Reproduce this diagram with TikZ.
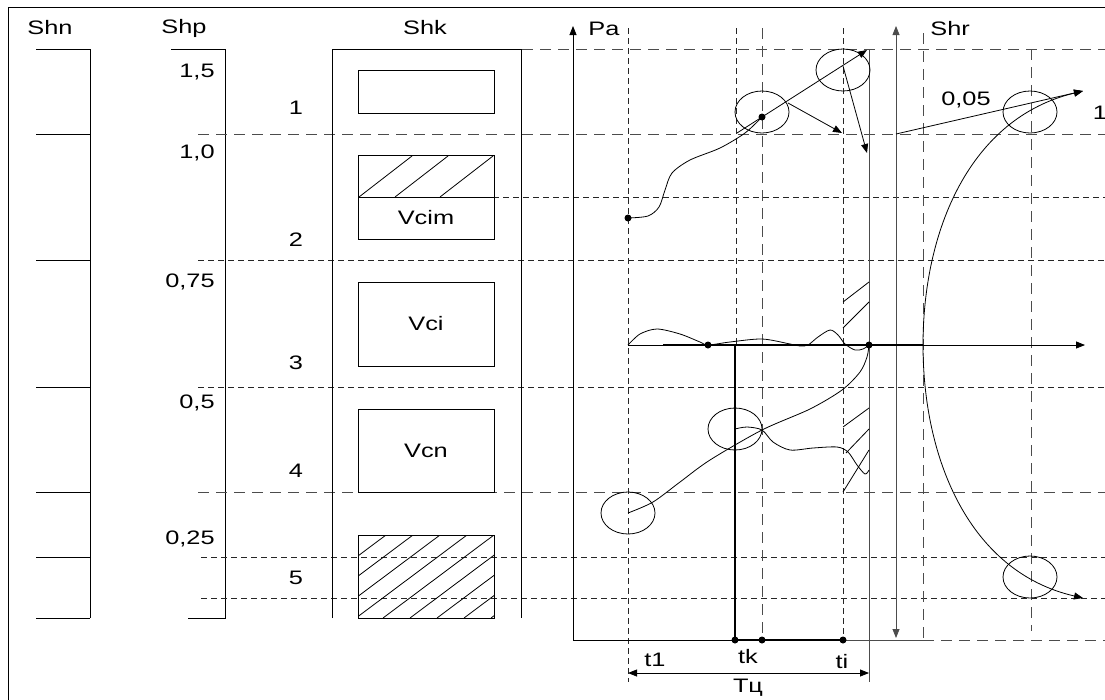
\documentclass[tikz,border=0pt]{standalone}
\usepackage{fontspec}
\setmainfont{Liberation Sans}[FakeStretch=1.3]
\usetikzlibrary{arrows.meta,shapes.geometric}

\tikzset{
	lbl/.style={font=\fontsize{19.5}{22}\selectfont, inner sep=0pt},
	longdash/.style={draw=black!70, line width=0.9pt, dash pattern=on 11pt off 7pt},
	shortdash/.style={draw=black!85, line width=0.8pt, dash pattern=on 6pt off 4pt},
	cell/.style={draw, line width=0.9pt, minimum width=136pt, inner sep=0pt},
	ring/.style={draw, ellipse, minimum width=54pt, minimum height=42pt, inner sep=0pt},
	dot/.style={circle, fill, minimum size=7pt, inner sep=0pt},
	arr/.style={-{Triangle[length=9pt,width=7pt]}},
}

\begin{document}
\begin{tikzpicture}[x=1pt, y=-1pt, line width=0.8pt]
\useasboundingbox (0,0) rectangle (1105,699);

\draw (8,710) -- (8,7) -- (1110,7);

% Escala Shn
\node[lbl] (shn) at (50,28) {Shn};
\draw (90,49) -- (90,618);
	\foreach \y in {49,134,260,387,492,557,618}
		\draw (36,\y) -- (90,\y);

% Escala Shp
\node[lbl] (shp) at (184,28) {Shp};
\draw (171,49) -- (225,49) -- (225,618) -- (188,618);
	\foreach \v/\y [count=\i] in {{1,5}/72, {1,0}/153, {0,75}/282, {0,5}/403, {0,25}/539}
		\node[lbl, anchor=east] (v\i) at (215,\y) {\v};
	\foreach \y [count=\i] in {108,240,363,471,578}
		\node[lbl] (n\i) at (296,\y) {\i};

% Linhas auxiliares
\draw[longdash] (522,49) -- (1105,49);
\draw[longdash] (198,134) -- (1105,134);
\draw[shortdash] (493,197) -- (1105,197);
\draw[shortdash] (198,260) -- (1105,260);
\draw[shortdash] (198,387) -- (1105,387);
\draw[longdash] (198,492) -- (1105,492);
\draw[shortdash] (201,557) -- (1105,557);
\draw[shortdash] (201,598) -- (1105,598);
\draw[longdash] (923,640) -- (1105,640);

\draw[shortdash] (628,28) -- (628,682);
\draw[shortdash] (736,28) -- (736,345);
\draw[longdash] (762,28) -- (762,640);
\draw[shortdash] (843,28) -- (843,640);
\draw[longdash] (923,33) -- (923,640);
\draw[longdash] (1031,49) -- (1031,631);

% Escala Shk
\node[lbl] (shk) at (425,28) {Shk};
\draw (332,618) -- (332,49) -- (521,49) -- (521,618);
\node[cell, minimum height=43pt] (b1) at (426,91.5) {};
\node[cell, minimum height=42pt] (b2) at (426,176) {};
\node[cell, minimum height=42pt, lbl] (vcim) at (426,218) {Vcim};
\node[cell, minimum height=84pt, lbl] (vci) at (426,324) {Vci};
\node[cell, minimum height=83pt, lbl] (vcn) at (426,450.5) {Vcn};
\node[cell, minimum height=83pt] (b5) at (426,576.5) {};
	\foreach \x in {359,395,440}
		\draw (\x,197) -- ++(53,-41);
\begin{scope}
	\clip (358,535) rectangle (494,618);
	\foreach \x in {386,413,...,605}
		\draw (\x,535) -- ++(-111,83);
\end{scope}

% Grafico Pa
\coordinate (o) at (573,640);
\draw[arr] (o) -- (573,26) coordinate (pa top);
\node[lbl, anchor=west] (pa) at (588,29) {Pa};
\draw (o) -- (735,640);
\draw[black!70] (843,640) -- (923,640);
\draw[black!70] (869,49) -- (869,682);
\draw[black!70, {Triangle[length=9pt,width=7pt]}-{Triangle[length=9pt,width=7pt]}] (896,26) -- (896,638);
\node[lbl, anchor=west] (shr) at (930,29) {Shr};

\node[dot] (d1) at (628,218) {};
\node[dot] (d2) at (762,117) {};
\node[dot] (d3) at (708,345) {};
\node[dot] (d4) at (869,345) {};
\node[dot] (tk) at (735,640) {};
\node[dot] (tc) at (762,640) {};
\node[dot] (ti) at (843,640) {};

\node[ring] (e1) at (762,112) {};
\node[ring] (e2) at (843,70) {};
\node[ring] (e3) at (735,429) {};
\node[ring] (e4) at (628,513) {};
\node[ring] (e5) at (1030,112) {};
\node[ring] (e6) at (1030,577) {};

\draw[line width=2pt] (tk.center) -- (ti.center);
\draw[line width=2pt] (735,345) -- (tk.center);
\draw (628,345) -- (663,345);
\draw[line width=2pt] (663,345) -- (d4.center) -- (923,345);
\draw[arr] (923,345) -- (1085,345);

\draw plot[smooth] coordinates {(628,218) (648,216) (659,207) (665,190) (672,173) (690,160) (720,148) (745,133) (762,117)};
\coordinate (a1) at (737,133);
\coordinate (a2) at (867,50);
\draw[arr] (a1) -- (a2);
\draw[arr] (788,103) -- (842,133);
\draw[arr] (843,66) -- (867,153);

\draw plot[smooth] coordinates {(628,345) (640,334) (657,329) (680,334) (700,342) (708,345) (730,342) (762,339) (790,344) (800,346) (808,345) (818,337) (830,330) (838,335) (845,344) (855,350) (863,349) (869,345)};
\draw plot[smooth] coordinates {(628,513) (653,502) (680,482) (710,460) (762,430) (810,409) (842,390) (860,372) (867,357) (869,345)};
\draw plot[smooth] coordinates {(735,429) (747,427) (762,430) (773,442) (790,450) (813,448) (837,447) (848,452) (857,465) (865,474) (869,470)};

\draw (843,302) -- (869,282);
\draw (843,328) -- (869,302);
\draw (843,427) -- (869,408);
\draw (846,453) -- (869,429);
\draw (843,492) -- (869,450);

% Grafico Shr
\coordinate (s0) at (896,134);
\coordinate (s1) at (1083,91);
\coordinate (s2) at (1083,598);
\draw[arr] (s0) -- (s1);
\draw[arr] (923,345) .. controls (923,230) and (970,118) .. (s1);
\draw[arr] (923,345) .. controls (923,460) and (970,572) .. (s2);
\node[lbl] (k05) at (966,100) {0,05};
\node[lbl] (k1) at (1100,113) {1};

% Tempo
\draw[{Triangle[length=9pt,width=7pt]}-{Triangle[length=9pt,width=7pt]}] (628,673) -- (869,673);
\node[lbl] (t1) at (655,660) {t1};
\node[lbl] (tkl) at (748,657) {tk};
\node[lbl] (til) at (842,662) {ti};
\node[lbl] (tq) at (748,688) {Tц};
\end{tikzpicture}
\end{document}
